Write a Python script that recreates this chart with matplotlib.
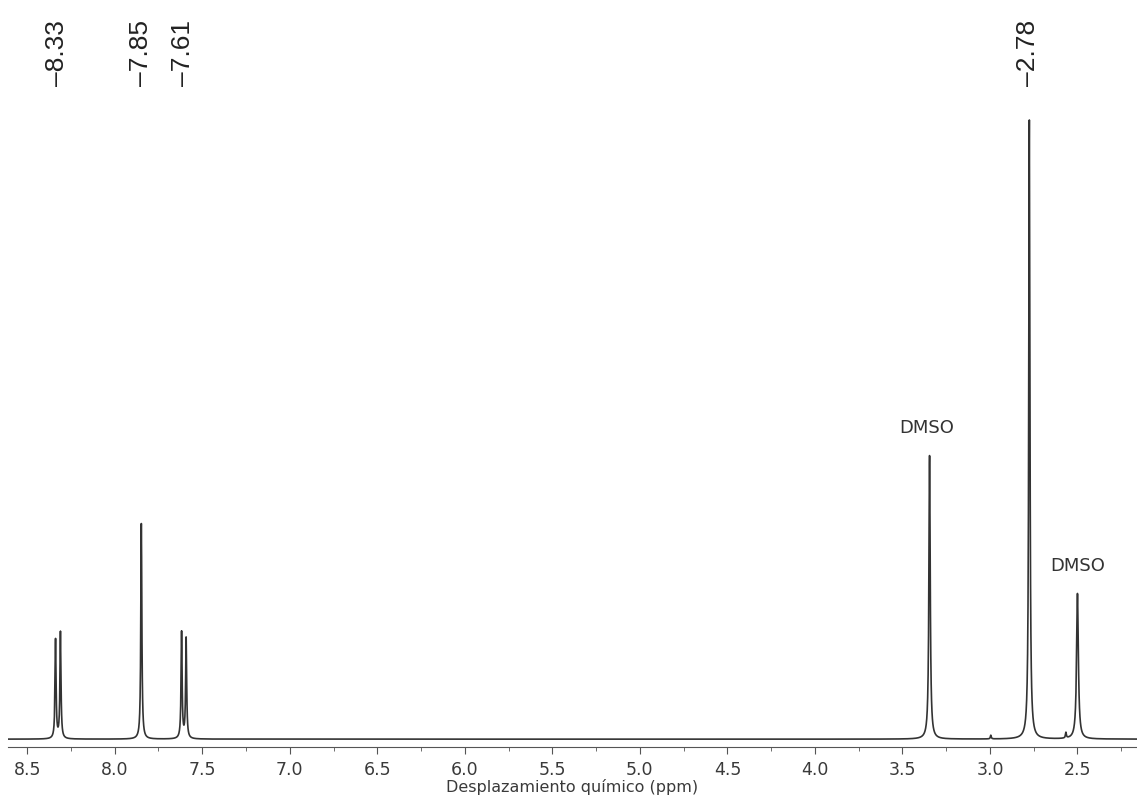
import numpy as np
import matplotlib
matplotlib.use('Agg')
import matplotlib.pyplot as plt
import matplotlib.transforms as mtransforms

# peak list (ppm, relative height, half width in ppm)
peak_ppm = [8.338, 8.310, 7.848, 7.618, 7.592, 3.345, 2.775, 2.500, 2.995, 2.566]
peak_height = [0.160, 0.172, 0.348, 0.172, 0.162, 0.458, 1.000, 0.235, 0.006, 0.009]
peak_width = [0.0035, 0.0035, 0.0035, 0.0035, 0.0035, 0.0045, 0.0040, 0.0060, 0.003, 0.003]

# labels shown at the top
label_ppm = [8.33, 7.85, 7.61, 2.78]
label_text = ['8.33', '7.85', '7.61', '2.78']

# solvent annotations
solvent_ppm = [3.36, 2.50]
solvent_y = [0.488, 0.265]
solvent_text = ['DMSO', 'DMSO']

ticks = [8.5, 8.0, 7.5, 7.0, 6.5, 6.0, 5.5, 5.0, 4.5, 4.0, 3.5, 3.0, 2.5]

# build the spectrum from the peak list (lorentzian lines)
ppm = np.linspace(2.16, 8.61, 30000)
intensity = np.zeros_like(ppm)
for p, h, w in zip(peak_ppm, peak_height, peak_width):
    intensity += h * w**2 / ((ppm - p)**2 + w**2)

fig = plt.figure(figsize=(11.37, 8.0), dpi=100)
ax = fig.add_axes([0.007, 0.066, 0.993, 0.809])

ax.plot(ppm, intensity, color='#333333', lw=1.2)
ax.set_xlim(8.61, 2.16)
ax.set_ylim(-0.013, 1.032)

for s in ['top', 'left', 'right']:
    ax.spines[s].set_visible(False)
ax.spines['bottom'].set_color('#555555')
ax.set_yticks([])
ax.set_xticks(ticks)
ax.set_xticklabels(['{:.1f}'.format(t) for t in ticks])
ax.set_xticks(np.arange(2.25, 8.6, 0.25), minor=True)
ax.tick_params(axis='x', which='major', length=5, color='#555555',
               labelsize=12.5, labelcolor='#3a3a3a', pad=5)
ax.tick_params(axis='x', which='minor', length=3, color='#555555')
ax.set_xlabel('Desplazamiento químico (ppm)', fontsize=11.5, color='#3a3a3a', labelpad=0)

# peak labels at the top, rotated
trans = mtransforms.blended_transform_factory(ax.transData, fig.transFigure)
for p, t in zip(label_ppm, label_text):
    ax.text(p, 0.893, '\u2013' + t, transform=trans, rotation=90,
            ha='center', va='bottom', fontsize=19, color='#222222',
            family='Liberation Sans')

for p, y, t in zip(solvent_ppm, solvent_y, solvent_text):
    ax.text(p, y, t, ha='center', va='bottom', fontsize=13, color='#333333')

fig.savefig('out.png', dpi=100)
